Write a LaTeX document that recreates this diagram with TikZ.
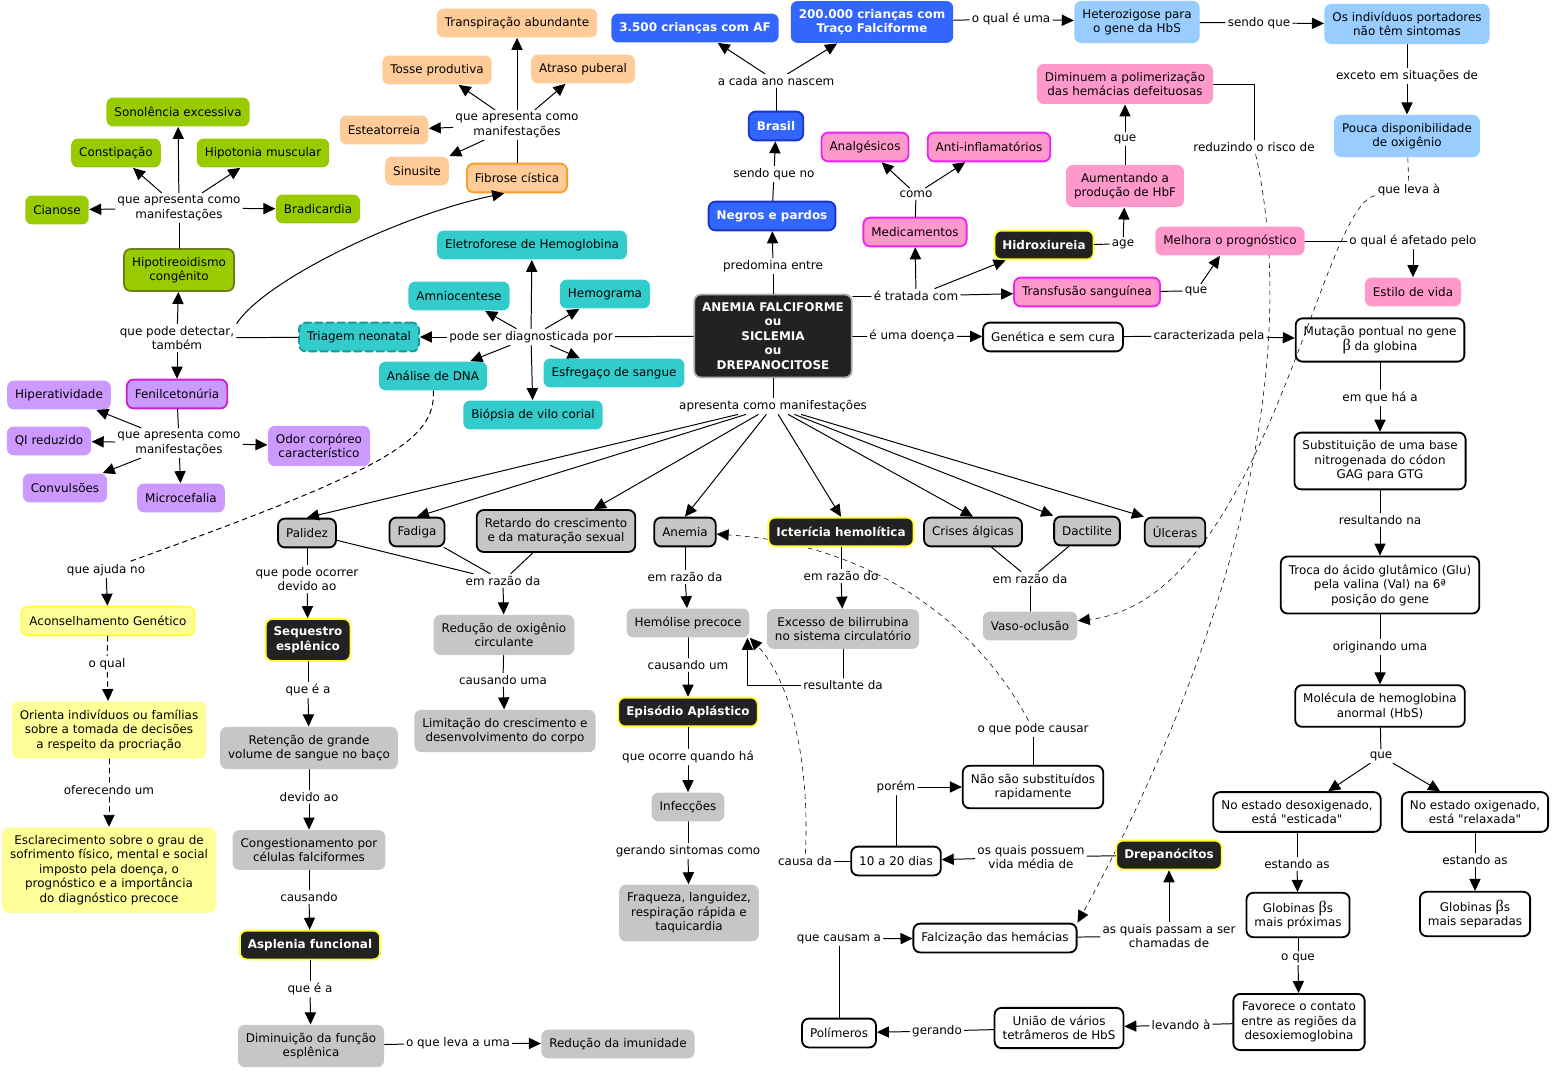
\documentclass[tikz,border=0pt]{standalone}
\usepackage{fontspec}
\setmainfont{DejaVu Sans}
\newfontfamily\grk{Liberation Serif}
\usetikzlibrary{arrows.meta,backgrounds}
% cores do mapa
\definecolor{pessego}{HTML}{FFCC99}
\definecolor{laranja}{HTML}{F5A02A}
\definecolor{verde}{HTML}{99CC00}
\definecolor{oliva}{HTML}{6E8011}
\definecolor{turq}{HTML}{33CCCC}
\definecolor{turqesc}{HTML}{179A9A}
\definecolor{lilas}{HTML}{CC99FF}
\definecolor{roxo}{HTML}{CC22CC}
\definecolor{azul}{HTML}{3366FF}
\definecolor{azulesc}{HTML}{1A33CC}
\definecolor{celeste}{HTML}{99CCFF}
\definecolor{rosa}{HTML}{FF99CC}
\definecolor{fucsia}{HTML}{EE22EE}
\definecolor{preto}{HTML}{222222}
\definecolor{amarelo}{HTML}{FFFF33}
\definecolor{creme}{HTML}{FFFF99}
\definecolor{cinza}{HTML}{C6C6C6}
\definecolor{borda}{HTML}{B0B0B0}
\begin{document}
\begin{tikzpicture}[x=0.025cm,y=-0.025cm,line cap=round,line join=round,line width=0.7pt]
\def\cmf{\fontsize{8.5}{10.3}\selectfont}
\def\bt{{\grk\fontsize{11.5}{10.3}\selectfont β}}
\tikzset{cpt/.style={rounded corners=0.17cm,align=center,inner xsep=0.2cm,inner ysep=0.2cm,minimum height=0.72cm,font=\cmf},
	lbl/.style={align=center,inner sep=1.5pt,font=\cmf},
	arr/.style={-{Triangle[length=0.3cm,width=0.28cm]}},
	tr/.style={dash pattern=on 3.5pt off 3pt},
	orng/.style={cpt,fill=pessego},
	grn/.style={cpt,fill=verde},
	tql/.style={cpt,fill=turq},
	lil/.style={cpt,fill=lilas},
	blu/.style={cpt,fill=azul,text=white,font=\cmf\bfseries},
	cel/.style={cpt,fill=celeste},
	rsa/.style={cpt,fill=rosa},
	rsab/.style={rsa,draw=fucsia,line width=1.3pt},
	blk/.style={cpt,fill=preto,draw=amarelo,line width=1.3pt,text=white,font=\cmf\bfseries},
	gry/.style={cpt,fill=cinza},
	gryb/.style={gry,draw=black,line width=1.3pt},
	wht/.style={cpt,draw=black,line width=1.3pt},
	ylw/.style={cpt,fill=creme}}
\useasboundingbox (0,0) rectangle (1552,1072);
% fibrose cistica
\node[orng,draw=laranja,line width=1.3pt] (fib) at (517,178) {Fibrose cística};
\node[lbl] (lfib) at (517,125) {que apresenta como\\manifestações};
\node[orng] (tra) at (517,23) {Transpiração abundante};
\node[orng] (tos) at (437,70) {Tosse produtiva};
\node[orng] (atr) at (583,69) {Atraso puberal};
\node[orng] (est) at (384,130) {Esteatorreia};
\node[orng] (sin) at (417,171) {Sinusite};
\draw (fib) -- (lfib);
\foreach \x in {tra,tos,atr,est,sin} \draw[arr] (lfib) -- (\x);
% hipotireoidismo
\node[grn,draw=oliva,line width=1.3pt] (hpt) at (179,270) {Hipotireoidismo\\congênito};
\node[lbl] (lhpt) at (179,208) {que apresenta como\\manifestações};
\node[grn] (son) at (178,112) {Sonolência excessiva};
\node[grn] (cst) at (116,153) {Constipação};
\node[grn] (hip) at (263,153) {Hipotonia muscular};
\node[grn] (cia) at (57,210) {Cianose};
\node[grn] (bra) at (318,209) {Bradicardia};
\draw (hpt) -- (lhpt);
\foreach \x in {son,cst,hip,cia,bra} \draw[arr] (lhpt) -- (\x);
% fenilcetonuria
\node[lil,draw=roxo,line width=1.3pt] (fen) at (177,394) {Fenilcetonúria};
\node[lbl] (lfen) at (179,443) {que apresenta como\\manifestações};
\node[lil] (hpa) at (59,395) {Hiperatividade};
\node[lil] (qir) at (49,441) {QI reduzido};
\node[lil] (cvl) at (65,488) {Convulsões};
\node[lil] (mic) at (181,498) {Microcefalia};
\node[lil] (odo) at (319,446) {Odor corpóreo\\característico};
\draw (fen) -- (lfen);
\foreach \x in {hpa,qir,cvl,mic,odo} \draw[arr] (lfen) -- (\x);
% conceito central e diagnostico
\node[cpt,fill=preto,draw=borda,line width=1.3pt,text=white,font=\cmf\bfseries] (af) at (773,336) {ANEMIA FALCIFORME\\ou\\SICLEMIA\\ou\\DREPANOCITOSE};
\node[lbl] (ldia) at (531,337) {pode ser diagnosticada por};
\node[tql,draw=turqesc,line width=1.3pt,dash pattern=on 5pt off 3pt] (tri) at (359,337) {Triagem neonatal};
\node[tql] (ele) at (532,245) {Eletroforese de Hemoglobina};
\node[tql] (amn) at (459,296) {Amniocentese};
\node[tql] (hemg) at (605,294) {Hemograma};
\node[tql] (dna) at (433,376) {Análise de DNA};
\node[tql] (esf) at (614,373) {Esfregaço de sangue};
\node[tql] (bio) at (533,415) {Biópsia de vilo corial};
\draw (af) -- (ldia);
\foreach \x in {tri,amn,ele,hemg,dna,esf,bio} \draw[arr] (ldia) -- (\x);
\node[lbl] (lpd) at (177,338) {que pode detectar,\\também};
\draw (tri) -- (lpd);
\draw[arr] (lpd) -- (hpt);
\draw[arr] (lpd) -- (fen);
\draw[arr] (lpd.north east) .. controls (265,280) and (400,215) .. (fib.-130);
% aconselhamento
\node[lbl] (lajd) at (106,570) {que ajuda no};
\node[ylw,draw=amarelo,line width=1.3pt] (acg) at (108,621) {Aconselhamento Genético};
\node[lbl] (lqual) at (107,664) {o qual};
\node[ylw] (ori) at (109,730) {Orienta indivíduos ou famílias\\sobre a tomada de decisões\\a respeito da procriação};
\node[lbl] (lofe) at (109,790) {oferecendo um};
\node[ylw] (esc) at (109,870) {Esclarecimento sobre o grau de\\sofrimento físico, mental e social\\imposto pela doença, o\\prognóstico e a importância\\do diagnóstico precoce};
\draw[tr] (dna) .. controls (435,440) and (390,468) .. (lajd);
\draw[arr] (lajd) -- (acg);
\foreach \a/\b/\c in {acg/lqual/ori,ori/lofe/esc} {\draw[tr] (\a) -- (\b); \draw[tr,arr] (\b) -- (\c);}
% Brasil
\node[blu] (c35) at (695,28) {3.500 crianças com AF};
\node[blu] (c200) at (872,22) {200.000 crianças com\\Traço Falciforme};
\node[blu,draw=azulesc,line width=1.3pt] (bsl) at (776,126) {Brasil};
\node[blu,draw=azulesc,line width=1.3pt] (neg) at (772,216) {Negros e pardos};
\node[lbl] (lano) at (776,81) {a cada ano nascem};
\node[lbl] (lsq) at (774,174) {sendo que no};
\node[lbl] (lpre) at (773,266) {predomina entre};
\draw (bsl) -- (lano);
\foreach \x in {c35,c200} \draw[arr] (lano) -- (\x);
\node[lbl] (lqu) at (1011,19) {o qual é uma};
\node[cel] (het) at (1137,22) {Heterozigose para\\o gene da HbS};
\node[lbl] (lsdq) at (1259,23) {sendo que};
\node[cel] (ind) at (1407,24) {Os indivíduos portadores\\não têm sintomas};
\node[lbl] (lexc) at (1407,76) {exceto em situações de};
\node[cel] (pou) at (1407,136) {Pouca disponibilidade\\de oxigênio};
\node[lbl] (llev) at (1409,190) {que leva à};
% tratamento
\node[lbl] (ltrat) at (916,296) {é tratada com};
\node[rsab] (med) at (915,232) {Medicamentos};
\node[lbl] (lcom) at (916,194) {como};
\node[rsab] (anl) at (865,147) {Analgésicos};
\node[rsab] (ant) at (989,147) {Anti-inflamatórios};
\node[blk] (hid) at (1044,245) {Hidroxiureia};
\node[rsab] (trf) at (1087,292) {Transfusão sanguínea};
\node[lbl] (lage) at (1123,244) {age};
\node[rsa] (aum) at (1125,186) {Aumentando a\\produção de HbF};
\node[lbl] (lque1) at (1125,139) {que};
\node[rsa] (dim) at (1125,84) {Diminuem a polimerização\\das hemácias defeituosas};
\node[lbl] (lred) at (1254,147) {reduzindo o risco de};
\node[lbl] (lque2) at (1196,291) {que};
\node[rsa] (mel) at (1230,241) {Melhora o prognóstico};
\node[lbl] (lafe) at (1413,241) {o qual é afetado pelo};
\node[rsa] (vid) at (1413,292) {Estilo de vida};
\draw (af.east |- ltrat) -- (ltrat);
\foreach \x in {med,hid,trf} \draw[arr] (ltrat) -- (\x);
\draw (med) -- (lcom);
\foreach \x in {anl,ant} \draw[arr] (lcom) -- (\x);
\draw (dim) -| (lred);
% genetica
\node[lbl] (ldoe) at (912,336) {é uma doença};
\node[wht] (gen) at (1053,337) {Genética e sem cura};
\node[lbl] (lcar) at (1209,336) {caracterizada pela};
\node[wht] (mut) at (1380,340) {Mutação pontual no gene\\\bt{} da globina};
\node[lbl] (lemq) at (1380,398) {em que há a};
\node[wht] (sub) at (1380,461) {Substituição de uma base\\nitrogenada do códon\\GAG para GTG};
\node[lbl] (lres) at (1380,520) {resultando na};
\node[wht] (tro) at (1380,585) {Troca do ácido glutâmico (Glu)\\pela valina (Val) na 6ª\\posição do gene};
\node[lbl] (lori) at (1380,647) {originando uma};
\node[wht] (mol) at (1380,706) {Molécula de hemoglobina\\anormal (HbS)};
\node[lbl] (lque3) at (1381,756) {que};
\node[wht] (des) at (1297,812) {No estado desoxigenado,\\está \textquotedbl esticada\textquotedbl};
\node[wht] (oxi) at (1475,812) {No estado oxigenado,\\está \textquotedbl relaxada\textquotedbl};
\node[lbl] (lest1) at (1297,864) {estando as};
\node[wht] (prox) at (1298,915) {Globinas \bt s\\mais próximas};
\node[lbl] (lest2) at (1475,860) {estando as};
\node[wht] (sep) at (1475,914) {Globinas \bt s\\mais separadas};
\node[lbl] (loq) at (1298,958) {o que};
\node[wht] (fav) at (1299,1022) {Favorece o contato\\entre as regiões da\\desoxiemoglobina};
\node[lbl] (llvd) at (1181,1025) {levando à};
\node[wht] (uni) at (1059,1028) {União de vários\\tetrâmeros de HbS};
\node[lbl] (lger) at (937,1031) {gerando};
\node[wht] (pol) at (839,1033) {Polímeros};
\node[lbl] (lcau) at (839,939) {que causam a};
\node[wht] (fal) at (995,938) {Falcização das hemácias};
\node[lbl] (lpas) at (1169,936) {as quais passam a ser\\chamadas de};
\node[blk] (dre) at (1169,855) {Drepanócitos};
\node[lbl] (lqua) at (1031,857) {os quais possuem\\vida média de};
\node[wht] (dias) at (896,861) {10 a 20 dias};
\node[lbl] (lpor) at (896,787) {porém};
\node[wht] (nao) at (1033,787) {Não são substituídos\\rapidamente};
\node[lbl] (lopc) at (1033,729) {o que pode causar};
\node[lbl] (lcd) at (805,861) {causa da};
\draw (mol) -- (lque3);
\foreach \x in {des,oxi} \draw[arr] (lque3) -- (\x);
\draw (nao) -- (lopc);
\draw (dias) -- (lcd);
% manifestacoes
\node[lbl] (lman) at (773,406) {apresenta como manifestações};
\draw (af) -- (lman);
\node[gryb] (pal) at (307,533) {Palidez};
\node[gryb] (fad) at (417,532) {Fadiga};
\node[gryb] (ret) at (556,531) {Retardo do crescimento\\e da maturação sexual};
\node[gryb] (ane) at (685,532) {Anemia};
\node[blk] (ict) at (841,532) {Icterícia hemolítica};
\node[gryb] (cri) at (973,532) {Crises álgicas};
\node[gryb] (dac) at (1087,531) {Dactilite};
\node[gryb] (ulc) at (1175,532) {Úlceras};
\foreach \x/\n in {pal/north,fad/north,ret/30,ane/north,ict/north,cri/north,dac/north west,ulc/north west} \draw[arr] (lman) -- (\x.\n);
\node[lbl] (locd) at (307,579) {que pode ocorrer\\devido ao};
\node[blk] (seq) at (308,640) {Sequestro\\esplênico};
\node[lbl] (lrz1) at (503,581) {em razão da};
\foreach \x in {pal,fad,ret} \draw (\x) -- (lrz1);
\node[gry] (red) at (504,635) {Redução de oxigênio\\circulante};
\draw[arr] (lrz1) -- (red);
\node[lbl] (lcsu) at (503,680) {causando uma};
\node[gry] (lim) at (505,731) {Limitação do crescimento e\\desenvolvimento do corpo};
\node[lbl] (lqe1) at (308,690) {que é a};
\node[gry] (rtn) at (309,748) {Retenção de grande\\volume de sangue no baço};
\node[lbl] (ldev) at (309,797) {devido ao};
\node[gry] (cgt) at (309,850) {Congestionamento por\\células falciformes};
\node[lbl] (lcsd) at (309,897) {causando};
\node[blk] (asp) at (310,945) {Asplenia funcional};
\node[lbl] (lqe2) at (310,989) {que é a};
\node[gry] (dfe) at (311,1046) {Diminuição da função\\esplênica};
\node[lbl] (lolv) at (458,1043) {o que leva a uma};
\node[gry] (rim) at (618,1044) {Redução da imunidade};
\node[lbl] (lrz2) at (685,577) {em razão da};
\node[gry] (hml) at (688,623) {Hemólise precoce};
\node[lbl] (lcum) at (688,665) {causando um};
\node[blk] (epi) at (688,712) {Episódio Aplástico};
\node[lbl] (locq) at (688,757) {que ocorre quando há};
\node[gry] (inf) at (688,807) {Infecções};
\node[lbl] (lgsc) at (688,851) {gerando sintomas como};
\node[gry] (fra) at (689,913) {Fraqueza, languidez,\\respiração rápida e\\taquicardia};
\node[lbl] (lrzd) at (841,576) {em razão do};
\node[gry] (exc) at (843,629) {Excesso de bilirrubina\\no sistema circulatório};
\node[lbl] (lrst) at (843,685) {resultante da};
\node[lbl] (lrz3) at (1030,579) {em razão da};
\node[gry] (vas) at (1030,626) {Vaso-oclusão};
\foreach \x in {cri,dac,vas} \draw (\x) -- (lrz3);
\draw (exc) -- (lrst);
\draw[arr] (lrst) -| ([xshift=-0.06cm]hml.south east);
% ligacoes conceito - frase - conceito
\foreach \a/\b/\c in {af/lpre/neg,neg/lsq/bsl,c200/lqu/het,het/lsdq/ind,ind/lexc/pou,hid/lage/aum,aum/lque1/dim,trf/lque2/mel,mel/lafe/vid,af/ldoe/gen,gen/lcar/mut,mut/lemq/sub,sub/lres/tro,tro/lori/mol,des/lest1/prox,oxi/lest2/sep,prox/loq/fav,fav/llvd/uni,uni/lger/pol,pol/lcau/fal,fal/lpas/dre,dre/lqua/dias,dias/lpor/nao,pal/locd/seq,red/lcsu/lim,seq/lqe1/rtn,rtn/ldev/cgt,cgt/lcsd/asp,asp/lqe2/dfe,dfe/lolv/rim,ane/lrz2/hml,hml/lcum/epi,epi/locq/inf,inf/lgsc/fra,ict/lrzd/exc}
{\draw (\a) -- (\b); \draw[arr] (\b) -- (\c);}
% ligacoes tracejadas, por baixo dos conceitos
\begin{scope}[on background layer]
\draw[tr] (pou) -- (llev);
\draw[tr,arr] (llev) .. controls (1320,205) and (1265,600) .. (vas);
\draw[tr,arr] (lred) .. controls (1310,400) and (1200,700) .. (fal.north east);
\draw[tr,arr] (lopc) .. controls (980,630) and (880,545) .. (ane);
\draw[tr,arr] (lcd) .. controls (810,760) and (790,680) .. (hml.south east);
\end{scope}
\end{tikzpicture}
\end{document}
